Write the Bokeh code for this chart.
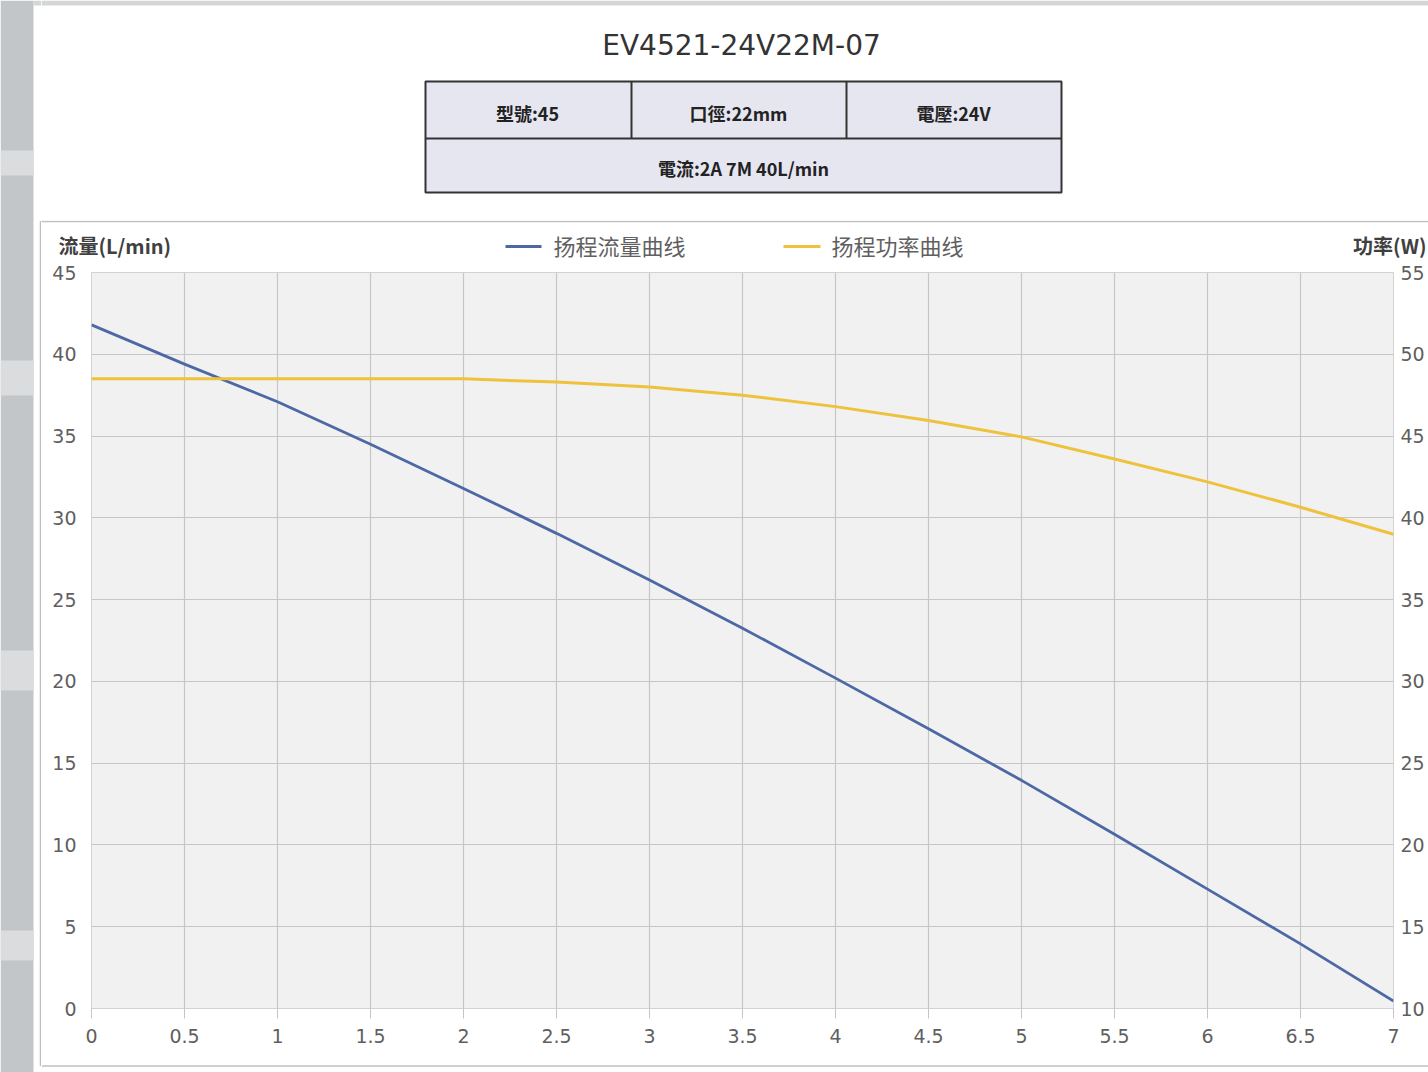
from bokeh.plotting import figure
from bokeh.models import Range1d, LinearAxis, FixedTicker, CustomJSTickFormatter
from bokeh.layouts import row, column
from bokeh.embed import file_html
from bokeh.resources import INLINE
from bokeh.core.properties import value

# ---------------- data ----------------
title_text = "EV4521-24V22M-07"
spec_top = ["型號:45", "口徑:22mm", "電壓:24V"]
spec_bottom = ["電流:2A 7M 40L/min"]
legend_labels = ["扬程流量曲线", "扬程功率曲线"]
left_axis_title = ["流量(L/min)"]
right_axis_title = ["功率(W)"]

x_vals = [0, 0.5, 1, 1.5, 2, 2.5, 3, 3.5, 4, 4.5, 5, 5.5, 6, 6.5, 7]
flow = [41.8, 39.4, 37.1, 34.5, 31.8, 29.05, 26.2, 23.25, 20.2, 17.1, 13.95, 10.65, 7.3, 3.95, 0.45]
power = [48.5, 48.5, 48.5, 48.5, 48.5, 48.3, 48.0, 47.5, 46.8, 45.95, 44.95, 43.6, 42.2, 40.65, 39.0]

x_ticks = [0, 0.5, 1, 1.5, 2, 2.5, 3, 3.5, 4, 4.5, 5, 5.5, 6, 6.5, 7]
left_ticks = [0, 5, 10, 15, 20, 25, 30, 35, 40, 45]
right_ticks = [10, 15, 20, 25, 30, 35, 40, 45, 50, 55]

BLUE = "#4d69a5"
YELLOW = "#eec23c"
BOX = "#c0c0c0"
CJK = "Noto Sans CJK SC"
CJK_TC = "Noto Sans CJK TC"
TICK_FONT = "DejaVu Sans"


def blank(width, height, xr, yr, bg="white"):
    f = figure(width=width, height=height, x_range=Range1d(*xr), y_range=Range1d(*yr),
               output_backend="svg", toolbar_location=None, min_border=0,
               background_fill_color=bg, border_fill_color=bg, outline_line_color=None)
    f.axis.visible = False
    f.grid.visible = False
    return f


# ---------------- left strip (page background + left edge of chart box) ----------------
strip = blank(41, 1072, (0, 41), (1072, 0))
strip.quad(left=[0], right=[33], top=[0], bottom=[1072], fill_color="#c3c6c9", line_color=None)
strip.quad(left=[0, 0, 0, 0], right=[33, 33, 33, 33], top=[150, 360, 650, 930],
           bottom=[175, 395, 690, 960], fill_color="#dadcde", line_color=None)
strip.quad(left=[33], right=[41], top=[0], bottom=[5], fill_color="#d4d6d8", line_color=None)
strip.segment(x0=[40], y0=[220.5], x1=[40], y1=[1065.5], line_color=BOX, line_width=1.5)

# ---------------- header (title + spec table) ----------------
top = blank(1387, 220, (41, 1428), (220, 0))
top.quad(left=[41], right=[1428], top=[0], bottom=[5], fill_color="#d4d6d8", line_color=None)
top.text(x=[741], y=[45], text=[title_text], text_align="center", text_baseline="middle",
         text_font=value("DejaVu Sans"), text_font_size="28px", text_color="#333333")
top.quad(left=[425], right=[1061], top=[81], bottom=[192], fill_color="#e6e6f1",
         line_color="#333333", line_width=2)
top.segment(x0=[425, 631, 846], y0=[138, 81, 81], x1=[1061, 631, 846], y1=[138, 138, 138],
            line_color="#333333", line_width=2)
top.text(x=[527, 738, 953], y=[112, 112, 112], text=spec_top, text_align="center",
         text_baseline="middle", text_font=value(CJK_TC), text_font_size="18px",
         text_font_style="bold", text_color="#222222")
top.text(x=[743], y=[167], text=spec_bottom, text_align="center", text_baseline="middle",
         text_font=value(CJK_TC), text_font_size="18px", text_font_style="bold",
         text_color="#222222")

# ---------------- chart header (axis titles + legend) ----------------
hdr = blank(1387, 41, (41, 1428), (261, 220))
hdr.segment(x0=[40], y0=[221], x1=[1428], y1=[221], line_color=BOX, line_width=1.5)
hdr.text(x=[58], y=[245], text=left_axis_title, text_baseline="middle",
         text_font=value(CJK), text_font_size="20px", text_font_style="bold",
         text_color="#404040")
hdr.text(x=[1426], y=[245], text=right_axis_title, text_baseline="middle", text_align="right",
         text_font=value(CJK), text_font_size="20px", text_font_style="bold",
         text_color="#404040")
hdr.segment(x0=[505], y0=[246], x1=[541], y1=[246], line_color=BLUE, line_width=2.8)
hdr.segment(x0=[783], y0=[246], x1=[820], y1=[246], line_color=YELLOW, line_width=3)
hdr.text(x=[553, 831], y=[244.5, 244.5], text=legend_labels, text_baseline="middle",
         text_font=value(CJK), text_font_size="22px", text_color="#606060")

# ---------------- main chart ----------------
p = figure(width=1387, height=794, x_range=Range1d(0, 7), y_range=Range1d(0, 45),
           output_backend="svg", toolbar_location=None,
           min_border_left=50, min_border_right=35, min_border_top=11, min_border_bottom=47,
           background_fill_color="#f1f1f1", border_fill_color="white",
           outline_line_color="#d2d2d2")

p.extra_y_ranges = {"w": Range1d(10, 55)}
rax = LinearAxis(y_range_name="w", ticker=FixedTicker(ticks=right_ticks))
p.add_layout(rax, "right")

p.xaxis.ticker = FixedTicker(ticks=x_ticks)
p.xaxis.formatter = CustomJSTickFormatter(code="return String(tick)")
p.yaxis[0].ticker = FixedTicker(ticks=left_ticks)
p.xgrid.ticker = FixedTicker(ticks=x_ticks)
p.ygrid.ticker = FixedTicker(ticks=left_ticks)
p.grid.grid_line_color = "#c6c6c6"
p.grid.grid_line_width = 1.2

for ax in p.axis:
    ax.axis_line_color = None
    ax.minor_tick_line_color = None
    ax.major_label_text_font = TICK_FONT
    ax.major_label_text_font_size = "19px"
    ax.major_label_text_color = "#5f5f5f"

p.xaxis.major_tick_line_color = "#c6c6c6"
p.xaxis.major_tick_out = 10
p.xaxis.major_tick_in = 0
p.xaxis.major_label_standoff = 10

p.yaxis.major_tick_line_color = None
p.yaxis.major_tick_out = 0
p.yaxis.major_tick_in = 0
p.yaxis[0].major_label_standoff = 15
rax.major_label_standoff = 7

p.line(x_vals, flow, line_color=BLUE, line_width=2.8)
p.line(x_vals, power, y_range_name="w", line_color=YELLOW, line_width=3)

# ---------------- footer (bottom edge of chart box) ----------------
foot = blank(1387, 17, (41, 1428), (1072, 1055))
foot.segment(x0=[41], y0=[1065.5], x1=[1428], y1=[1065.5], line_color=BOX, line_width=1.5)

layout = row(strip, column(top, hdr, row(p), foot))

with open("out.html", "w", encoding="utf-8") as f:
    f.write(file_html(layout, INLINE))
